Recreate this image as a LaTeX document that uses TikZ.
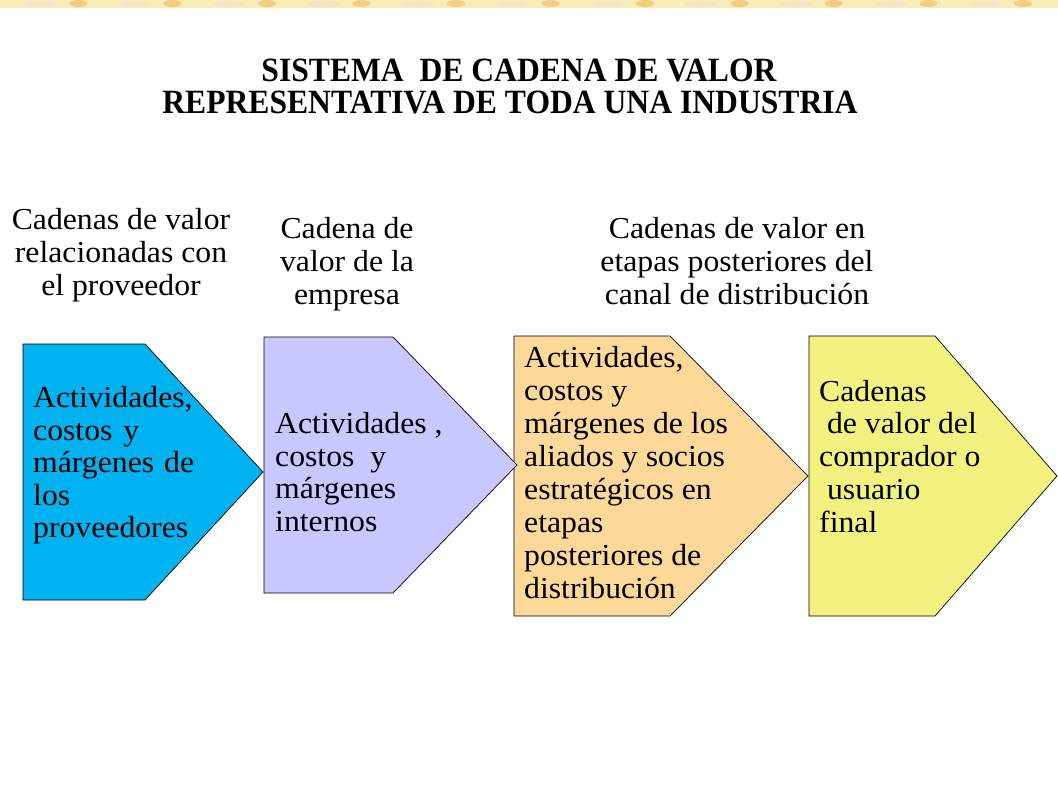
\documentclass[tikz,border=0pt]{standalone}
\usepackage{fontspec}
\setmainfont{Liberation Serif}[FakeStretch=1.04]
\newfontfamily\titlefont{Liberation Serif}[FakeStretch=0.93]
\definecolor{c1}{RGB}{0,178,240}
\definecolor{c2}{RGB}{200,200,255}
\definecolor{c3}{RGB}{252,216,153}
\definecolor{c4}{RGB}{242,242,128}
\definecolor{goldA}{RGB}{250,236,180}
\definecolor{goldB}{RGB}{238,190,90}
\begin{document}
\begin{tikzpicture}[x=1pt,y=-1pt]
\tikzset{
  chev/.style={draw=black, line width=0.7pt, line join=miter},
  boxtext/.style={anchor=north west, inner sep=0pt, align=left, font=\fontsize{30.5}{32.5}\selectfont},
  lbl/.style={anchor=north, inner sep=0pt, align=center, font=\fontsize{30.5}{33}\selectfont},
  ttl/.style={anchor=base, inner sep=0pt, font=\titlefont\bfseries\fontsize{34}{32}\selectfont}
}
\useasboundingbox (0,0) rectangle (1058,793);
\fill[white] (0,0) rectangle (1058,793);
% decorative top strip
\fill[goldA] (0,0) rectangle (1058,8);
\foreach \i in {0,...,11}{
  \fill[goldB!40] ({40+94.5*\i},4) ellipse (16 and 3.5);
  \fill[goldB!75] ({78+94.5*\i},3.5) ellipse (9 and 3.5);
}
% title
\node[ttl] (t1) at (519,81) {SISTEMA\ \ DE CADENA DE VALOR};
\node[ttl] (t2) at (510,113) {REPRESENTATIVA DE TODA UNA INDUSTRIA};
% column labels
\node[lbl] (l1) at (121,206) {\strut Cadenas de valor\\relacionadas con\\el proveedor};
\node[lbl] (l2) at (347,215) {\strut Cadena de\\valor de la\\empresa};
\node[lbl] (l3) at (737,215) {\strut Cadenas de valor en\\etapas posteriores del\\canal de distribución};
% chevrons
\draw[chev, fill=c1] (23,344) -- (145,344) -- (263,472) -- (145,600) -- (23,600) -- cycle;
\draw[chev, fill=c3] (514,336) -- (670,336) -- (808,476) -- (670,616) -- (514,616) -- cycle;
\draw[chev, fill=c2] (264,337) -- (393,337) -- (517,465) -- (393,593) -- (264,593) -- cycle;
\draw[chev, fill=c4] (809,336) -- (935,336) -- (1057,476) -- (935,616) -- (809,616) -- cycle;
% chevron texts
\node[boxtext] (s1) at (33,385) {\strut Actividades,\\costos\hspace{11pt}y\\márgenes\hspace{10pt}de\\los\\proveedores};
\node[boxtext] (s2) at (275,411) {\strut Actividades ,\\costos\ \ y\\márgenes\\internos};
\node[boxtext, font=\fontsize{30.5}{33}\selectfont] (s3) at (524,344) {\strut Actividades,\\costos y\\márgenes\ de los\\aliados y socios\\estratégicos\ en\\etapas\\posteriores de\\distribución};
\node[boxtext, font=\fontsize{30.5}{32.8}\selectfont] (s4) at (819,378) {\strut Cadenas\\\ de valor del\\comprador o\\\ usuario\\final};
\end{tikzpicture}
\end{document}
